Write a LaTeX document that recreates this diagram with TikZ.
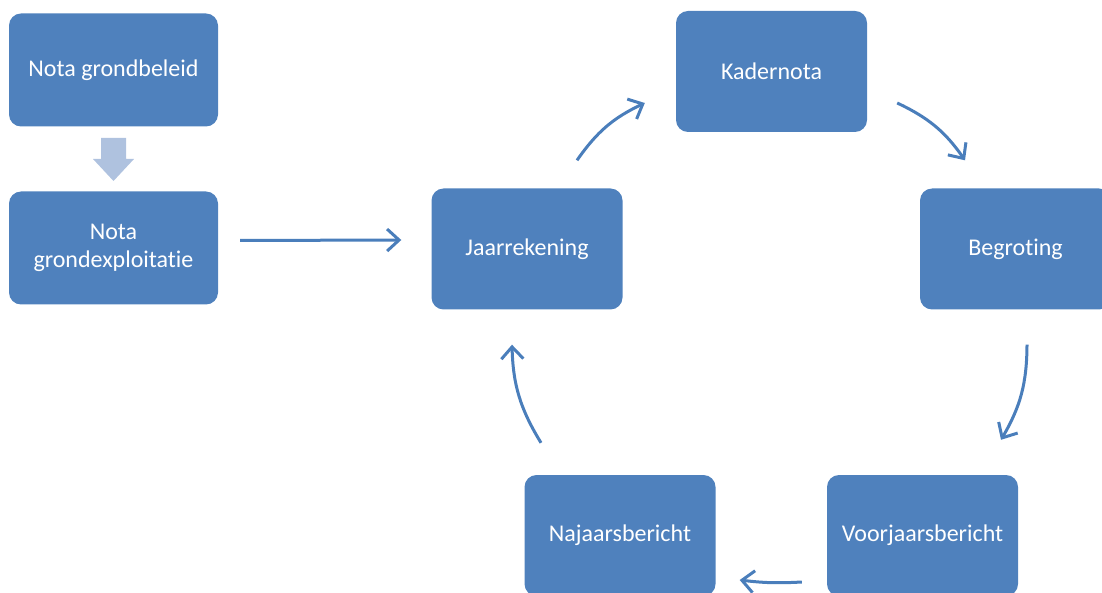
\documentclass[tikz,border=0pt]{standalone}
\usepackage{fontspec}
\setmainfont{Carlito}[Ligatures=NoCommon]
\usetikzlibrary{arrows.meta,calc}
\definecolor{boxblue}{HTML}{4F81BD}
\definecolor{lineblue}{HTML}{4A7EBB}
\definecolor{paleblue}{HTML}{AFC2DF}

\begin{document}
\begin{tikzpicture}[x=1pt,y=-1pt,
    stap/.style={rectangle,rounded corners=12pt,fill=boxblue,text=white,
      minimum width=191pt,minimum height=121pt,align=center,
      font=\fontsize{24}{28}\selectfont},
    flow/.style={lineblue,line width=3pt,-{Straight Barb[length=12pt,width=22pt]}}]
  \useasboundingbox (0,0) rectangle (1102,593);
  \clip (0,0) rectangle (1102,593);
  % left column
  \node[stap,minimum width=209pt,minimum height=113pt] (beleid) at (113.5,70) {Nota grondbeleid};
  \node[stap,minimum width=209pt,minimum height=113pt] (exploit) at (113.5,248) {Nota\\grondexploitatie};
  \coordinate (pijl) at ($(beleid.south)!0.5!(exploit.north)$);
  \fill[paleblue] ($(pijl)+(-12.5,-21)$) -- ($(pijl)+(12.5,-21)$) -- ($(pijl)+(12.5,0)$)
    -- ($(pijl)+(20.5,0)$) -- ($(pijl)+(0,22)$) -- ($(pijl)+(-20.5,0)$)
    -- ($(pijl)+(-12.5,0)$) -- cycle;
  % the cycle
  \node[stap] (jaar) at (527,249) {Jaarrekening};
  \node[stap] (kader) at (771.5,71.5) {Kadernota};
  \node[stap] (begr) at (1015.5,249) {Begroting};
  \node[stap] (voorj) at (922.5,535.5) {Voorjaarsbericht};
  \node[stap] (najaar) at (620,535.5) {Najaarsbericht};
  \draw[flow] ($(exploit.east)+(22,-7.5)$) -- ($(jaar.west)+(-30,-9)$);
  \draw[flow] ($(jaar.north)+(50,-28)$) to[bend left=15] ($(kader.west)+(-31,31.5)$);
  \draw[flow] ($(kader.east)+(30,31.5)$) to[bend left=15] ($(begr.north)+(-50.5,-28)$);
  \draw[flow] ($(begr.south)+(11.5,35)$) to[bend left=15] ($(voorj.north)+(78.5,-35)$);
  \draw[flow] ($(voorj.west)+(-25,46.5)$) to[bend left=5] ($(najaar.east)+(24,44.5)$);
  \draw[flow] ($(najaar.north)+(-79,-32)$) to[bend left=15] ($(jaar.south)+(-15,35)$);
\end{tikzpicture}
\end{document}
